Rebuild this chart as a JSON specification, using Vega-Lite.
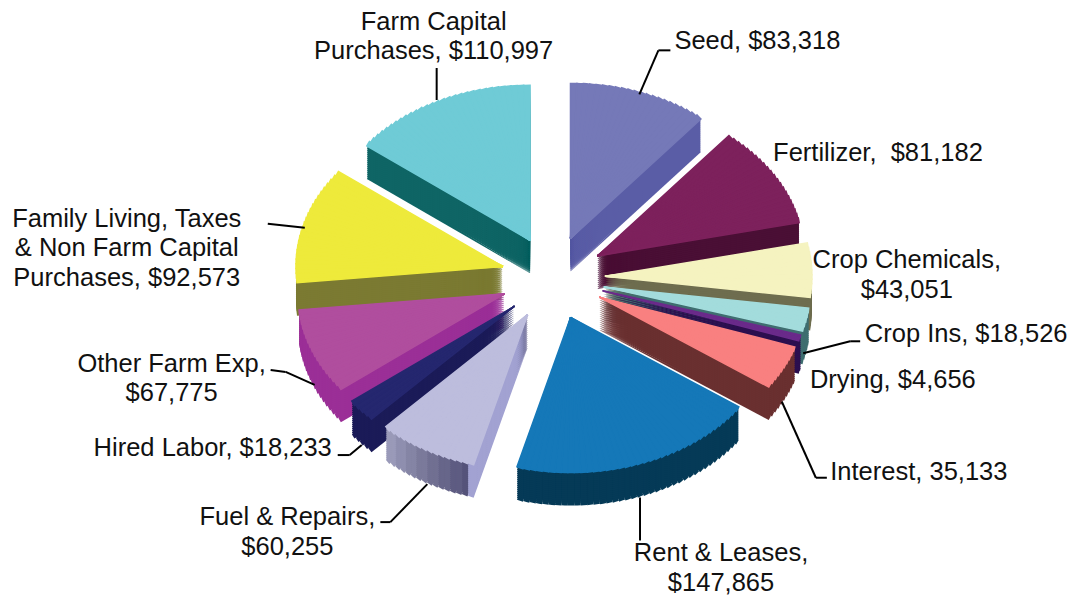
{"$schema":"https://vega.github.io/schema/vega-lite/v6.json","width":1071,"height":596,"padding":0,"autosize":{"type":"none"},"background":"white","config":{"view":{"stroke":null}},
"data":{"values":[
{"order":1,"item":"Seed","value":83318,"label":"Seed, $83,318"},
{"order":2,"item":"Fertilizer","value":81182,"label":"Fertilizer,\u00a0 $81,182"},
{"order":3,"item":"Crop Chemicals","value":43051,"label":"Crop Chemicals,\n$43,051"},
{"order":4,"item":"Crop Ins","value":18526,"label":"Crop Ins, $18,526"},
{"order":5,"item":"Drying","value":4656,"label":"Drying, $4,656"},
{"order":6,"item":"Interest","value":35133,"label":"Interest, 35,133"},
{"order":7,"item":"Rent & Leases","value":147865,"label":"Rent & Leases,\n$147,865"},
{"order":8,"item":"Fuel & Repairs","value":60255,"label":"Fuel & Repairs,\n$60,255"},
{"order":9,"item":"Hired Labor","value":18233,"label":"Hired Labor, $18,233"},
{"order":10,"item":"Other Farm Exp","value":67775,"label":"Other Farm Exp,\n$67,775"},
{"order":11,"item":"Family Living","value":92573,"label":"Family Living, Taxes\n& Non Farm Capital\nPurchases, $92,573"},
{"order":12,"item":"Farm Capital","value":110997,"label":"Farm Capital\nPurchases, $110,997"}
]},
"transform":[
{"joinaggregate":[{"op":"sum","field":"value","as":"total"}]},
{"stack":"value","groupby":[],"sort":[{"field":"order","order":"ascending"}],"as":["s0","s1"]},
{"calculate":"datum.s0/datum.total*2*PI","as":"a0"},
{"calculate":"datum.s1/datum.total*2*PI","as":"a1"},
{"calculate":"(datum.a0+datum.a1)/2","as":"mid"},
{"calculate":"52*sin(datum.mid)","as":"cx"},
{"calculate":"42*cos(datum.mid)","as":"cy"},
{"calculate":"257*sin(datum.mid)","as":"ax"},
{"calculate":"195*cos(datum.mid)","as":"ay"},
{"calculate":"ceil((datum.a1-datum.a0)*180/PI/1.8)","as":"n"},
{"calculate":"[0,1,2,3,4,5,6,7,8,9,10,11,12,13,14,15,16,17,18,19,20,21,22,23,24,25,26,27,28,29,30,31,32,33,34,35,36,37,38,39,40]","as":"part"},
{"flatten":["part"]},
{"filter":"datum.part<datum.n"},
{"calculate":"datum.a0+(datum.a1-datum.a0)*datum.part/datum.n","as":"u0"},
{"calculate":"datum.a0+(datum.a1-datum.a0)*(datum.part+1)/datum.n","as":"u1"},
{"calculate":"(datum.u0+datum.u1)/2","as":"um"},
{"calculate":"atan2(207*sin(datum.u0),155*cos(datum.u0))","as":"t0r"},
{"calculate":"atan2(207*sin(datum.u1),155*cos(datum.u1))","as":"t1r"},
{"calculate":"datum.t0r<0?datum.t0r+2*PI:datum.t0r","as":"t0"},
{"calculate":"datum.t1r<0?datum.t1r+2*PI:datum.t1r","as":"t1"},
{"calculate":"sqrt(pow(207*sin(datum.um),2)+pow(155*cos(datum.um),2))","as":"r"},
{"calculate":"datum.item=='Fuel & Repairs'?(datum.part==0?'Fuel cut':'Fuel '+floor(datum.part/datum.n*8)):datum.item","as":"sideKey"},
{"calculate":"datum.order*100+(datum.part==0?50:datum.part)","as":"drawOrder"}
],
"layer":[
{"encoding":{
"x":{"field":"cx","type":"quantitative","scale":{"domain":[-553,518]},"axis":null},
"y":{"field":"cy","type":"quantitative","scale":{"domain":[-318,278]},"axis":null},
"theta":{"field":"t0","type":"quantitative","stack":null,"scale":{"domain":[0,6.2832],"range":[0,6.2832]}},
"theta2":{"field":"t1"},
"radius":{"field":"r","type":"quantitative","scale":{"domain":[0,300],"range":[0,300]}}},
"resolve":{"scale":{"color":"independent"}},
"layer":[
{"encoding":{"order":{"field":"drawOrder","type":"quantitative"},"color":{"field":"sideKey","type":"nominal","legend":null,"scale":{"domain":["Seed","Fertilizer","Crop Chemicals","Crop Ins","Drying","Interest","Rent & Leases","Fuel cut","Fuel 0","Fuel 1","Fuel 2","Fuel 3","Fuel 4","Fuel 5","Fuel 6","Fuel 7","Hired Labor","Other Farm Exp","Family Living","Farm Capital"],"range":["#5a5da6","#4a0f35","#6e6d4f","#3f6e70","#2c0f4f","#6a3030","#053a57","#a2a2d2","#55537a","#5e5c82","#67668a","#717092","#7b7a9b","#8585a5","#8f8faf","#9a9ab9","#1b1b58","#9b2f97","#7b7a32","#0f6565"]}}},
"layer":[
{"mark":{"type":"arc","yOffset":33}},
{"mark":{"type":"arc","yOffset":31}},
{"mark":{"type":"arc","yOffset":29}},
{"mark":{"type":"arc","yOffset":27}},
{"mark":{"type":"arc","yOffset":25}},
{"mark":{"type":"arc","yOffset":23}},
{"mark":{"type":"arc","yOffset":21}},
{"mark":{"type":"arc","yOffset":19}},
{"mark":{"type":"arc","yOffset":17}},
{"mark":{"type":"arc","yOffset":15}},
{"mark":{"type":"arc","yOffset":13}},
{"mark":{"type":"arc","yOffset":11}},
{"mark":{"type":"arc","yOffset":9}},
{"mark":{"type":"arc","yOffset":7}},
{"mark":{"type":"arc","yOffset":5}},
{"mark":{"type":"arc","yOffset":3}},
{"mark":{"type":"arc","yOffset":1}}
]},
{"mark":{"type":"arc","strokeWidth":1.5},"encoding":{"color":{"field":"item","type":"nominal","legend":null,"scale":{"domain":["Seed","Fertilizer","Crop Chemicals","Crop Ins","Drying","Interest","Rent & Leases","Fuel & Repairs","Hired Labor","Other Farm Exp","Family Living","Farm Capital"],"range":["#7579b8","#7d215c","#f5f3c0","#a3dcdc","#6a2a8a","#f98080","#1578b8","#bdbddd","#25276f","#b04e9e","#eeea3b","#6fcbd6"]}},"stroke":{"field":"item","type":"nominal","legend":null,"scale":{"domain":["Seed","Fertilizer","Crop Chemicals","Crop Ins","Drying","Interest","Rent & Leases","Fuel & Repairs","Hired Labor","Other Farm Exp","Family Living","Farm Capital"],"range":["#7579b8","#7d215c","#f5f3c0","#a3dcdc","#6a2a8a","#f98080","#1578b8","#bdbddd","#25276f","#b04e9e","#eeea3b","#6fcbd6"]}}}}
]},
{"transform":[{"filter":"datum.part==0"}],
"encoding":{"x":{"field":"ax","type":"quantitative","scale":{"domain":[-553,518]},"axis":null},"y":{"field":"ay","type":"quantitative","scale":{"domain":[-318,278]},"axis":null}},
"layer":[
{"encoding":{"x2":{"field":"ax"},"y2":{"field":"ay"}},"layer":[
{"transform":[{"filter":"datum.item=='Seed'"}],"mark":{"type":"rule","color":"black","strokeWidth":2,"xOffset":0,"yOffset":0,"x2Offset":19,"y2Offset":-44}},
{"transform":[{"filter":"datum.item=='Seed'"}],"mark":{"type":"rule","color":"black","strokeWidth":2,"xOffset":19,"yOffset":-44,"x2Offset":31,"y2Offset":-44}},
{"transform":[{"filter":"datum.item=='Farm Capital'"}],"mark":{"type":"rule","color":"black","strokeWidth":2,"xOffset":-3,"yOffset":-3,"x2Offset":-3,"y2Offset":-35}},
{"transform":[{"filter":"datum.item=='Family Living'"}],"mark":{"type":"rule","color":"black","strokeWidth":2,"xOffset":-1,"yOffset":3,"x2Offset":-38,"y2Offset":-1}},
{"transform":[{"filter":"datum.item=='Other Farm Exp'"}],"mark":{"type":"rule","color":"black","strokeWidth":2,"xOffset":0,"yOffset":34,"x2Offset":-29,"y2Offset":21}},
{"transform":[{"filter":"datum.item=='Other Farm Exp'"}],"mark":{"type":"rule","color":"black","strokeWidth":2,"xOffset":-29,"yOffset":21,"x2Offset":-44,"y2Offset":19}},
{"transform":[{"filter":"datum.item=='Hired Labor'"}],"mark":{"type":"rule","color":"black","strokeWidth":2,"xOffset":-1,"yOffset":36,"x2Offset":-13,"y2Offset":46}},
{"transform":[{"filter":"datum.item=='Hired Labor'"}],"mark":{"type":"rule","color":"black","strokeWidth":2,"xOffset":-13,"yOffset":46,"x2Offset":-25,"y2Offset":46}},
{"transform":[{"filter":"datum.item=='Fuel & Repairs'"}],"mark":{"type":"rule","color":"black","strokeWidth":2,"xOffset":0,"yOffset":36,"x2Offset":-37,"y2Offset":74}},
{"transform":[{"filter":"datum.item=='Fuel & Repairs'"}],"mark":{"type":"rule","color":"black","strokeWidth":2,"xOffset":-37,"yOffset":74,"x2Offset":-47,"y2Offset":74}},
{"transform":[{"filter":"datum.item=='Rent & Leases'"}],"mark":{"type":"rule","color":"black","strokeWidth":2,"xOffset":0,"yOffset":36,"x2Offset":0,"y2Offset":79}},
{"transform":[{"filter":"datum.item=='Interest'"}],"mark":{"type":"rule","color":"black","strokeWidth":2,"xOffset":0,"yOffset":35,"x2Offset":34,"y2Offset":111}},
{"transform":[{"filter":"datum.item=='Interest'"}],"mark":{"type":"rule","color":"black","strokeWidth":2,"xOffset":34,"yOffset":111,"x2Offset":45,"y2Offset":111}},
{"transform":[{"filter":"datum.item=='Crop Ins'"}],"mark":{"type":"rule","color":"black","strokeWidth":2,"xOffset":-1,"yOffset":34,"x2Offset":46,"y2Offset":22}},
{"transform":[{"filter":"datum.item=='Crop Ins'"}],"mark":{"type":"rule","color":"black","strokeWidth":2,"xOffset":46,"yOffset":22,"x2Offset":56,"y2Offset":22}}
]},
{"encoding":{"text":{"field":"label","type":"nominal"}},"layer":[
{"transform":[{"filter":"datum.item=='Seed'"}],"mark":{"type":"text","font":"Liberation Sans","fontSize":25.5,"lineHeight":29.5,"lineBreak":"\n","baseline":"middle","align":"center","color":"#111","dx":118,"dy":-53}},
{"transform":[{"filter":"datum.item=='Fertilizer'"}],"mark":{"type":"text","font":"Liberation Sans","fontSize":25.5,"lineHeight":29.5,"lineBreak":"\n","baseline":"middle","align":"center","color":"#111","dx":106,"dy":-23}},
{"transform":[{"filter":"datum.item=='Crop Chemicals'"}],"mark":{"type":"text","font":"Liberation Sans","fontSize":25.5,"lineHeight":29.5,"lineBreak":"\n","baseline":"middle","align":"center","color":"#111","dx":97,"dy":-10}},
{"transform":[{"filter":"datum.item=='Crop Ins'"}],"mark":{"type":"text","font":"Liberation Sans","fontSize":25.5,"lineHeight":29.5,"lineBreak":"\n","baseline":"middle","align":"center","color":"#111","dx":162,"dy":15}},
{"transform":[{"filter":"datum.item=='Drying'"}],"mark":{"type":"text","font":"Liberation Sans","fontSize":25.5,"lineHeight":29.5,"lineBreak":"\n","baseline":"middle","align":"center","color":"#111","dx":95,"dy":43}},
{"transform":[{"filter":"datum.item=='Interest'"}],"mark":{"type":"text","font":"Liberation Sans","fontSize":25.5,"lineHeight":29.5,"lineBreak":"\n","baseline":"middle","align":"center","color":"#111","dx":137,"dy":105}},
{"transform":[{"filter":"datum.item=='Rent & Leases'"}],"mark":{"type":"text","font":"Liberation Sans","fontSize":25.5,"lineHeight":29.5,"lineBreak":"\n","baseline":"middle","align":"center","color":"#111","dx":81,"dy":92}},
{"transform":[{"filter":"datum.item=='Fuel & Repairs'"}],"mark":{"type":"text","font":"Liberation Sans","fontSize":25.5,"lineHeight":29.5,"lineBreak":"\n","baseline":"middle","align":"center","color":"#111","dx":-140,"dy":69}},
{"transform":[{"filter":"datum.item=='Hired Labor'"}],"mark":{"type":"text","font":"Liberation Sans","fontSize":25.5,"lineHeight":29.5,"lineBreak":"\n","baseline":"middle","align":"center","color":"#111","dx":-150,"dy":39}},
{"transform":[{"filter":"datum.item=='Other Farm Exp'"}],"mark":{"type":"text","font":"Liberation Sans","fontSize":25.5,"lineHeight":29.5,"lineBreak":"\n","baseline":"middle","align":"center","color":"#111","dx":-143,"dy":13}},
{"transform":[{"filter":"datum.item=='Family Living'"}],"mark":{"type":"text","font":"Liberation Sans","fontSize":25.5,"lineHeight":29.5,"lineBreak":"\n","baseline":"middle","align":"center","color":"#111","dx":-179,"dy":-6}},
{"transform":[{"filter":"datum.item=='Farm Capital'"}],"mark":{"type":"text","font":"Liberation Sans","fontSize":25.5,"lineHeight":29.5,"lineBreak":"\n","baseline":"middle","align":"center","color":"#111","dx":-6,"dy":-81}}
]}
]}
]}
